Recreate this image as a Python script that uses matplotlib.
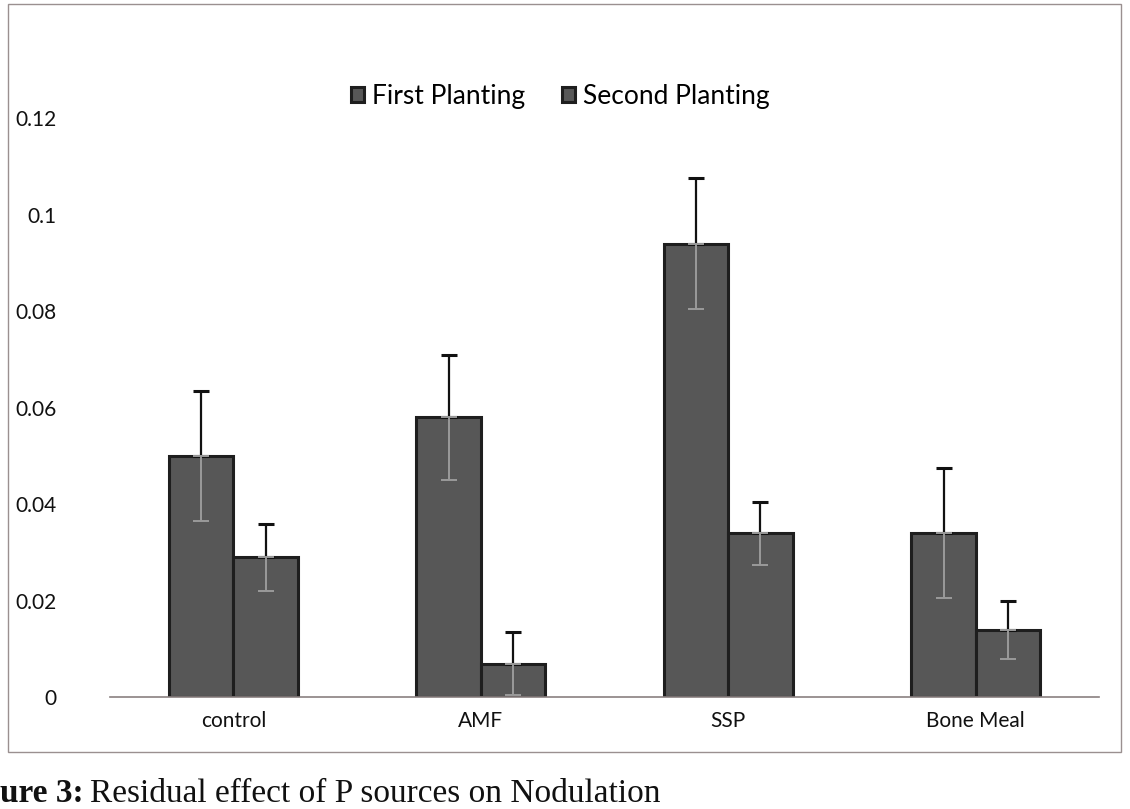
import matplotlib
matplotlib.use("Agg")
import matplotlib.pyplot as plt
from matplotlib.patches import Rectangle
import numpy as np

categories = ["control", "AMF", "SSP", "Bone Meal"]
first_planting = [0.050, 0.058, 0.094, 0.034]
second_planting = [0.029, 0.007, 0.034, 0.014]
first_err = [0.0135, 0.013, 0.0135, 0.0135]
second_err = [0.007, 0.0065, 0.0065, 0.006]
series_names = ["First Planting", "Second Planting"]
yticks = [0, 0.02, 0.04, 0.06, 0.08, 0.1, 0.12]
ytick_labels = ["0", "0.02", "0.04", "0.06", "0.08", "0.1", "0.12"]

plt.rcParams["font.family"] = ["Lato", "DejaVu Sans"]

fig = plt.figure(figsize=(11.3, 8.09), dpi=100)
fig.patch.set_facecolor("white")
ax = fig.add_axes([0.097, 0.138, 0.876, 0.716])

x = np.arange(len(categories))
w = 0.26
bar_color = "#575757"
edge = "#1e1e1e"

ax.bar(x - w / 2, first_planting, w, color=bar_color, edgecolor=edge,
       linewidth=2.2, label=series_names[0], zorder=2)
ax.bar(x + w / 2, second_planting, w, color=bar_color, edgecolor=edge,
       linewidth=2.2, label=series_names[1], zorder=2)

for xs, vals, errs in [(x - w / 2, first_planting, first_err),
                       (x + w / 2, second_planting, second_err)]:
    vals = np.array(vals)
    errs = np.array(errs)
    zeros = np.zeros_like(errs)
    # upper part (outside the bar) in black
    ax.errorbar(xs, vals, yerr=[zeros, errs], fmt="none", ecolor="#111111",
                elinewidth=1.6, capsize=6, capthick=2.2, zorder=3)
    # lower part (inside the bar) appears light grey
    ax.errorbar(xs, vals, yerr=[errs, zeros], fmt="none", ecolor="#9a9a9a",
                elinewidth=1.4, capsize=6, capthick=1.4, zorder=3)

ax.set_xlim(-0.5, len(categories) - 0.5)
ax.set_ylim(0, 0.12)
ax.set_yticks(yticks)
ax.set_yticklabels(ytick_labels)
ax.set_xticks(x)
ax.set_xticklabels(categories)
ax.tick_params(axis="both", length=0, labelsize=15, colors="#111111")
ax.tick_params(axis="y", pad=38)
ax.tick_params(axis="x", pad=10)
for s in ["top", "right", "left"]:
    ax.spines[s].set_visible(False)
ax.spines["bottom"].set_color("#8a8080")
ax.spines["bottom"].set_linewidth(1.2)
ax.set_facecolor("white")

leg = ax.legend(loc="lower center", bbox_to_anchor=(0.455, 0.975), ncol=2,
                frameon=False, fontsize=19, handlelength=0.5, handleheight=0.5,
                handletextpad=0.3, columnspacing=1.4)

# chart area border
fig.patches.append(Rectangle((0.007, 0.07), 0.985, 0.925, transform=fig.transFigure,
                             fill=False, edgecolor="#9a9090", linewidth=1.0))

serif = ["Liberation Serif", "DejaVu Serif"]
t1 = fig.text(0.0, 0.0, "ure 3:", family=serif, fontsize=24, weight="bold",
              color="#111111", ha="left", va="bottom")
fig.canvas.draw()
bb = t1.get_window_extent(renderer=fig.canvas.get_renderer())
x_next = bb.x1 / fig.bbox.width + 0.006
fig.text(x_next, 0.0, "Residual effect of P sources on Nodulation",
         family=serif, fontsize=24, color="#111111", ha="left", va="bottom")

fig.savefig("out.png", dpi=100, facecolor="white")
